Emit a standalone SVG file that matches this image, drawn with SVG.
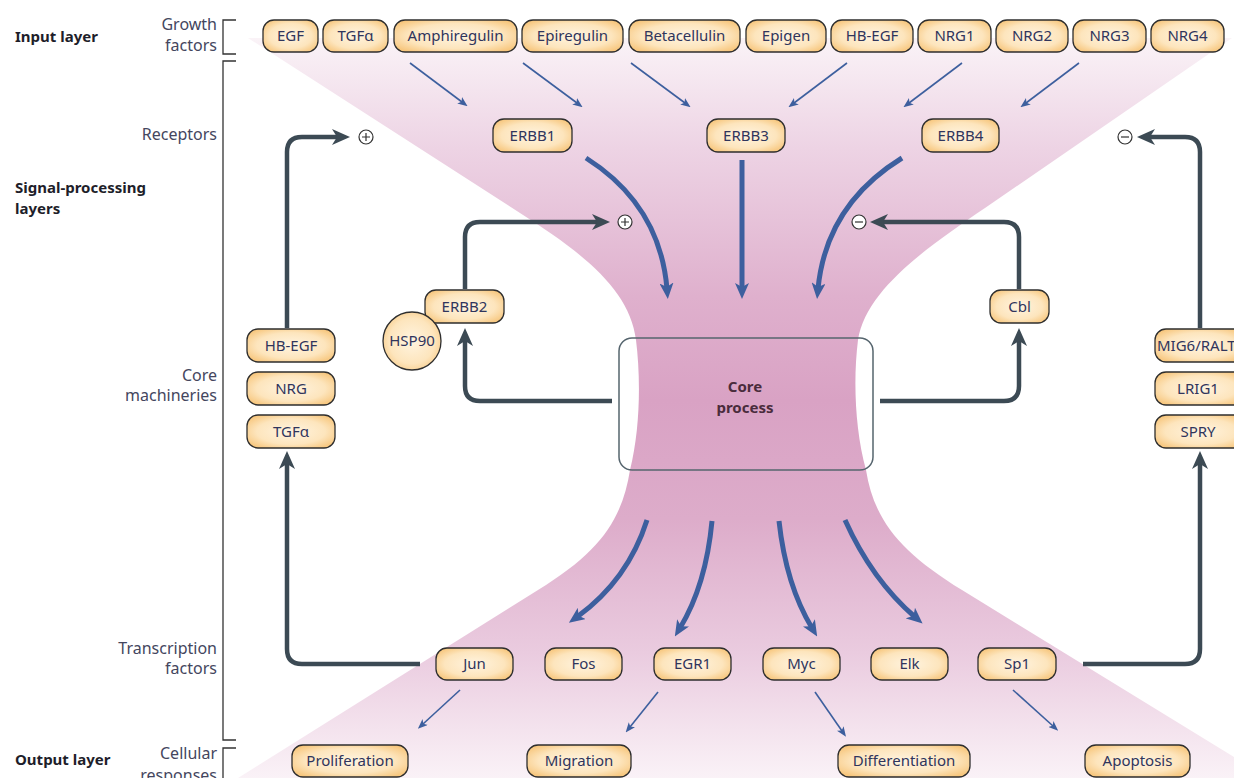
<svg xmlns="http://www.w3.org/2000/svg" width="1234" height="778" viewBox="0 0 1234 778">
<defs>
<linearGradient id="pink" gradientUnits="userSpaceOnUse" x1="0" y1="38" x2="0" y2="778">
<stop offset="0" stop-color="#faf3f7"/>
<stop offset="0.15" stop-color="#edd3e4"/>
<stop offset="0.35" stop-color="#dfb0cd"/>
<stop offset="0.49" stop-color="#d9a2c4"/>
<stop offset="0.65" stop-color="#ddacca"/>
<stop offset="0.83" stop-color="#eacbdf"/>
<stop offset="1" stop-color="#faf2f7"/>
</linearGradient>
<radialGradient id="nodeFill" cx="50%" cy="50%" r="65%">
<stop offset="0" stop-color="#fff4e0"/>
<stop offset="0.6" stop-color="#fde5bd"/>
<stop offset="1" stop-color="#f6c172"/>
</radialGradient>
<marker id="slateHead" markerUnits="userSpaceOnUse" markerWidth="18" markerHeight="16" refX="7" refY="8" orient="auto">
<path d="M0,0 L18,8 L0,16 L5,8 z" fill="#3c4a54"/>
</marker>
<marker id="blueThick" markerUnits="userSpaceOnUse" markerWidth="16" markerHeight="14" refX="6" refY="7" orient="auto">
<path d="M0,0 L16,7 L0,14 L4,7 z" fill="#3d5f9e"/>
</marker>
<marker id="blueThin" markerUnits="userSpaceOnUse" markerWidth="10" markerHeight="8" refX="3" refY="4" orient="auto">
<path d="M0,0 L10,4 L0,8 L2.5,4 z" fill="#3d5f9e"/>
</marker>
</defs>
<style>
.node rect, .node circle.n { fill: url(#nodeFill); stroke: #2e2e2e; stroke-width: 1.3; }
.node text { font-family: "Noto Sans", "Liberation Sans", sans-serif; font-size: 15px; fill: #30355c; text-anchor: middle; }
.side { font-family: "Noto Sans", "Liberation Sans", sans-serif; font-size: 16px; fill: #44465e; text-anchor: end; }
.layer { font-family: "Noto Sans", "Liberation Sans", sans-serif; font-size: 15px; font-weight: bold; fill: #1e1e2a; }
.bracket { fill: none; stroke: #333; stroke-width: 1.3; }
.slate { fill: none; stroke: #3c4a54; stroke-width: 4.5; stroke-linejoin: round; marker-end: url(#slateHead); }
.thick { fill: none; stroke: #3d5f9e; stroke-width: 5; marker-end: url(#blueThick); }
.thin { fill: none; stroke: #3d5f9e; stroke-width: 1.6; marker-end: url(#blueThin); }
.sign circle { fill: #fff; stroke: #333; stroke-width: 1.2; }
.sign path { stroke: #333; stroke-width: 1.2; fill: none; }
</style>

<rect width="1234" height="778" fill="#fff"/>

<!-- background hourglass -->
<path id="hourglass" fill="url(#pink)" d="M248,38 L1232,38 L985,208 C926,248 866,290 858,340 C853,380 855,430 866,470 C874,520 900,552 962,590 L1234,757 L1234,778 L238,778 L538,590 C600,552 622,520 630,470 C640,430 641,380 636,340 C630,290 583,253 520,213 Z"/>

<!-- layer labels and brackets -->
<g id="labels">
<text class="layer" x="15" y="42">Input layer</text>
<text class="layer" x="15" y="193">Signal-processing</text>
<text class="layer" x="15" y="214">layers</text>
<text class="layer" x="15" y="765">Output layer</text>
<text class="side" x="217" y="30">Growth</text>
<text class="side" x="217" y="51">factors</text>
<text class="side" x="217" y="140">Receptors</text>
<text class="side" x="217" y="381">Core</text>
<text class="side" x="217" y="401">machineries</text>
<text class="side" x="217" y="654">Transcription</text>
<text class="side" x="217" y="674">factors</text>
<text class="side" x="217" y="759">Cellular</text>
<text class="side" x="217" y="781">responses</text>
<path class="bracket" d="M236,20 H223 V54 H236"/>
<path class="bracket" d="M236,61 H223 V740 H236"/>
<path class="bracket" d="M236,748 H223 V782"/>
</g>

<!-- connectors -->
<g id="connectors">
<path class="thin" d="M410,63 L462,102"/>
<path class="thin" d="M523,63 L577,103"/>
<path class="thin" d="M631,63 L685,103"/>
<path class="thin" d="M847,63 L794,103"/>
<path class="thin" d="M962,63 L909,103"/>
<path class="thin" d="M1079,63 L1026,103"/>
<path class="thick" d="M586,158 Q660,205 667,289"/>
<path class="thick" d="M742,160 V289"/>
<path class="thick" d="M902,158 Q826,205 818,289"/>
<path class="thick" d="M647,520 Q628,580 577,617"/>
<path class="thick" d="M712,521 Q706,585 680,628"/>
<path class="thick" d="M779,521 Q786,585 812,628"/>
<path class="thick" d="M845,520 Q872,580 915,617"/>
<path class="thin" d="M460,690 L423,724"/>
<path class="thin" d="M658,692 L630,727"/>
<path class="thin" d="M815,692 L842,731"/>
<path class="thin" d="M1013,690 L1053,726"/>
<path class="slate" d="M287,328 V152 Q287,137 302,137 H339"/>
<path class="slate" d="M465,289 V237 Q465,222 480,222 H599"/>
<path class="slate" d="M612,401 H480 Q465,401 465,386 V339"/>
<path class="slate" d="M420,664 H302 Q287,664 287,649 V462"/>
<path class="slate" d="M880,401 H1004 Q1019,401 1019,386 V339"/>
<path class="slate" d="M1019,289 V237 Q1019,222 1004,222 H881"/>
<path class="slate" d="M1200,328 V152 Q1200,137 1185,137 H1148"/>
<path class="slate" d="M1083,664 H1185 Q1200,664 1200,649 V462"/>
</g>

<!-- signs -->
<g id="sign-plus-outer" class="sign"><circle cx="366" cy="137" r="7"/><path d="M362,137 H370 M366,133 V141"/></g>
<g id="sign-plus-inner" class="sign"><circle cx="625" cy="222" r="7"/><path d="M621,222 H629 M625,218 V226"/></g>
<g id="sign-minus-inner" class="sign"><circle cx="859" cy="222" r="7"/><path d="M855,222 H863"/></g>
<g id="sign-minus-outer" class="sign"><circle cx="1125" cy="137" r="7"/><path d="M1121,137 H1129"/></g>

<!-- core process -->
<g id="core-process">
<rect x="619" y="338" width="254" height="132" rx="13" fill="none" stroke="#56656e" stroke-width="1.5"/>
<text x="745" y="392" font-family="Noto Sans, Liberation Sans, sans-serif" font-size="15" font-weight="bold" fill="#4a2c3c" text-anchor="middle">Core</text>
<text x="745" y="413" font-family="Noto Sans, Liberation Sans, sans-serif" font-size="15" font-weight="bold" fill="#4a2c3c" text-anchor="middle">process</text>
</g>

<!-- growth factors -->
<g id="n-egf" class="node"><rect x="263" y="20" width="55" height="32" rx="11"/><text x="290.5" y="41">EGF</text></g>
<g id="n-tgfa" class="node"><rect x="323" y="20" width="65" height="32" rx="11"/><text x="355.5" y="41">TGFα</text></g>
<g id="n-amphiregulin" class="node"><rect x="394" y="20" width="123" height="32" rx="11"/><text x="455.5" y="41">Amphiregulin</text></g>
<g id="n-epiregulin" class="node"><rect x="522" y="20" width="101" height="32" rx="11"/><text x="572.5" y="41">Epiregulin</text></g>
<g id="n-betacellulin" class="node"><rect x="629" y="20" width="111" height="32" rx="11"/><text x="684.5" y="41">Betacellulin</text></g>
<g id="n-epigen" class="node"><rect x="746" y="20" width="80" height="32" rx="11"/><text x="786" y="41">Epigen</text></g>
<g id="n-hbegf-top" class="node"><rect x="831" y="20" width="82" height="32" rx="11"/><text x="872" y="41">HB-EGF</text></g>
<g id="n-nrg1" class="node"><rect x="918" y="20" width="73" height="32" rx="11"/><text x="954.5" y="41">NRG1</text></g>
<g id="n-nrg2" class="node"><rect x="996" y="20" width="72" height="32" rx="11"/><text x="1032" y="41">NRG2</text></g>
<g id="n-nrg3" class="node"><rect x="1073" y="20" width="73" height="32" rx="11"/><text x="1109.5" y="41">NRG3</text></g>
<g id="n-nrg4" class="node"><rect x="1151" y="20" width="73" height="32" rx="11"/><text x="1187.5" y="41">NRG4</text></g>

<!-- receptors -->
<g id="n-erbb1" class="node"><rect x="493" y="119" width="79" height="33" rx="11"/><text x="532.5" y="141">ERBB1</text></g>
<g id="n-erbb3" class="node"><rect x="707" y="119" width="78" height="33" rx="11"/><text x="746" y="141">ERBB3</text></g>
<g id="n-erbb4" class="node"><rect x="922" y="119" width="77" height="33" rx="11"/><text x="960.5" y="141">ERBB4</text></g>

<!-- core machineries -->
<g id="n-erbb2" class="node"><rect x="425" y="290" width="79" height="33" rx="11"/><text x="464.5" y="312">ERBB2</text></g>
<g id="n-hsp90" class="node"><circle class="n" cx="412" cy="341" r="29"/><text x="412" y="346">HSP90</text></g>
<g id="n-cbl" class="node"><rect x="990" y="290" width="59" height="33" rx="11"/><text x="1019.5" y="312">Cbl</text></g>
<g id="n-hbegf" class="node"><rect x="247" y="329" width="88" height="33" rx="11"/><text x="291" y="351">HB-EGF</text></g>
<g id="n-nrg" class="node"><rect x="247" y="372" width="88" height="33" rx="11"/><text x="291" y="394">NRG</text></g>
<g id="n-tgfa2" class="node"><rect x="247" y="415" width="88" height="33" rx="11"/><text x="291" y="437">TGFα</text></g>
<g id="n-mig6" class="node"><rect x="1155" y="329" width="92" height="33" rx="11"/><text x="1157" y="351" style="text-anchor:start">MIG6/RALT</text></g>
<g id="n-lrig1" class="node"><rect x="1155" y="372" width="92" height="33" rx="11"/><text x="1198" y="394">LRIG1</text></g>
<g id="n-spry" class="node"><rect x="1155" y="415" width="92" height="33" rx="11"/><text x="1198" y="437">SPRY</text></g>

<!-- transcription factors -->
<g id="n-jun" class="node"><rect x="436" y="648" width="77" height="32" rx="11"/><text x="474.5" y="669">Jun</text></g>
<g id="n-fos" class="node"><rect x="545" y="648" width="77" height="32" rx="11"/><text x="583.5" y="669">Fos</text></g>
<g id="n-egr1" class="node"><rect x="654" y="648" width="77" height="32" rx="11"/><text x="692.5" y="669">EGR1</text></g>
<g id="n-myc" class="node"><rect x="763" y="648" width="77" height="32" rx="11"/><text x="801.5" y="669">Myc</text></g>
<g id="n-elk" class="node"><rect x="871" y="648" width="77" height="32" rx="11"/><text x="909.5" y="669">Elk</text></g>
<g id="n-sp1" class="node"><rect x="978" y="648" width="78" height="32" rx="11"/><text x="1017" y="669">Sp1</text></g>

<!-- cellular responses -->
<g id="n-proliferation" class="node"><rect x="292" y="745" width="116" height="32" rx="11"/><text x="350" y="766">Proliferation</text></g>
<g id="n-migration" class="node"><rect x="527" y="745" width="104" height="32" rx="11"/><text x="579" y="766">Migration</text></g>
<g id="n-differentiation" class="node"><rect x="838" y="745" width="132" height="32" rx="11"/><text x="904" y="766">Differentiation</text></g>
<g id="n-apoptosis" class="node"><rect x="1085" y="745" width="105" height="32" rx="11"/><text x="1137.5" y="766">Apoptosis</text></g>
</svg>
